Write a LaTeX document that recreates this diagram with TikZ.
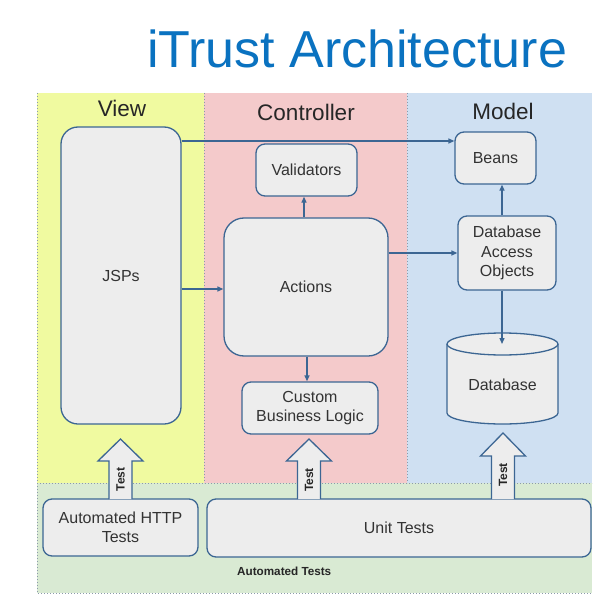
\documentclass[tikz,border=0pt]{standalone}
\usepackage{fontspec}
\setmainfont{Liberation Sans}
\usetikzlibrary{arrows.meta}
\definecolor{cyel}{HTML}{F0FAA0}
\definecolor{cpink}{HTML}{F4CACB}
\definecolor{cblue}{HTML}{CFE0F2}
\definecolor{cgreen}{HTML}{D9EAD3}
\definecolor{cbox}{HTML}{EDEDED}
\definecolor{cline}{HTML}{3C6693}
\definecolor{ctitle}{HTML}{0A72C0}
\definecolor{cdot}{HTML}{8C9AAA}
\begin{document}
\begin{tikzpicture}[x=1pt,y=1pt,
 box/.style={draw=cline, line width=1.3pt, fill=cbox, rounded corners=9pt, inner sep=0pt, align=center, font=\fontsize{16}{19.5}\selectfont, text=black!80},
 arr/.style={draw=cline, line width=1.3pt, -{Triangle[length=6pt,width=5pt]}},
 region/.style={draw=cdot, dotted, line width=1pt},
 hdr/.style={font=\fontsize{22.5}{26}\selectfont, text=black!85, anchor=base},
 blk/.style={draw=cline, line width=1.3pt, fill=cbox, line join=miter},
 tst/.style={rotate=90, font=\bfseries\fontsize{12}{14}\selectfont, inner sep=0pt, text=black!85}]
\useasboundingbox (0,0) rectangle (606,-607);
% regions
\fill[cyel] (37,-93) rectangle (204,-483);
\fill[cpink] (204,-93) rectangle (407,-483);
\fill[cblue] (407,-93) rectangle (592,-483);
\fill[cgreen] (37,-483) rectangle (592,-593);
\draw[region] (37,-93) -- (37,-593) -- (592,-593);
\draw[region] (37,-483) -- (592,-483);
\draw[region] (204,-93) -- (204,-483);
\draw[region] (407,-93) -- (407,-483);
% title and headers
\node[font=\fontsize{52}{60}\selectfont, text=ctitle, anchor=base, inner sep=0pt] (title) at (357,-68) {iTrust Architecture};
\node[hdr] (hview) at (122,-117) {View};
\node[hdr] (hctrl) at (306,-121) {Controller};
\node[hdr] (hmodel) at (503,-119) {Model};
\node[anchor=base west, font=\bfseries\fontsize{11.7}{14}\selectfont, text=black!85, inner sep=0pt] (hauto) at (237,-575) {Automated Tests};
% boxes
\node[box, minimum width=120pt, minimum height=297pt, rounded corners=17pt] (jsps) at (121,-275.5) {JSPs};
\node[box, minimum width=101pt, minimum height=52pt] (valid) at (306.5,-170) {Validators};
\node[box, minimum width=164pt, minimum height=138pt, rounded corners=20pt] (actions) at (306,-287) {Actions};
\node[box, minimum width=136pt, minimum height=52pt] (cbl) at (310,-408) {Custom\\Business Logic};
\node[box, minimum width=81pt, minimum height=52pt] (beans) at (495.5,-158) {Beans};
\node[box, minimum width=98pt, minimum height=74pt] (dao) at (507,-253) {Database\\Access\\Objects};
\node[box, minimum width=155pt, minimum height=57pt] (http) at (120.5,-527.5) {Automated HTTP\\Tests};
\node[box, minimum width=384pt, minimum height=58pt] (unit) at (399,-528) {Unit Tests};
% database cylinder
\fill[cbox] (447,-344) -- (447,-413) arc[start angle=180,end angle=360,x radius=55.5,y radius=11] -- (558,-344) arc[start angle=0,end angle=180,x radius=55.5,y radius=11] -- cycle;
\draw[cline, line width=1.3pt] (447,-344) -- (447,-413) arc[start angle=180,end angle=360,x radius=55.5,y radius=11] -- (558,-344);
\draw[cline, line width=1.3pt] (502.5,-344) ellipse [x radius=55.5, y radius=11];
\node[font=\fontsize{16}{19}\selectfont, text=black!80, inner sep=0pt] (db) at (502.5,-385) {Database};
\coordinate (dbtop) at (502,-344);
% connectors
\draw[arr] (jsps.east |- 0,-141) -- (beans.west |- 0,-141);
\draw[arr] (jsps.east |- 0,-289) -- (actions.west |- 0,-289);
\draw[arr] (actions.north -| 304,0) -- (valid.south -| 304,0);
\draw[arr] (actions.east |- dao.west) -- (dao.west);
\draw[arr] (dao.north -| 502,0) -- (beans.south -| 502,0);
\draw[arr] (actions.south -| 307,0) -- (cbl.north -| 307,0);
\draw[arr] (dao.south -| dbtop) -- (dbtop);
% block test arrows
\draw[blk] (109,-499) -- (109,-461) -- (98,-461) -- (120.5,-439) -- (143,-461) -- (132,-461) -- (132,-499);
\node[tst] (t1) at (120.5,-479.5) {Test};
\draw[blk] (297.5,-499) -- (297.5,-461) -- (286.5,-461) -- (309,-439) -- (331.5,-461) -- (320.5,-461) -- (320.5,-499);
\node[tst] (t2) at (309,-480) {Test};
\draw[blk] (491.5,-499) -- (491.5,-456) -- (480.5,-456) -- (503,-433) -- (525.5,-456) -- (514.5,-456) -- (514.5,-499);
\node[tst] (t3) at (503,-475) {Test};
\end{tikzpicture}
\end{document}
